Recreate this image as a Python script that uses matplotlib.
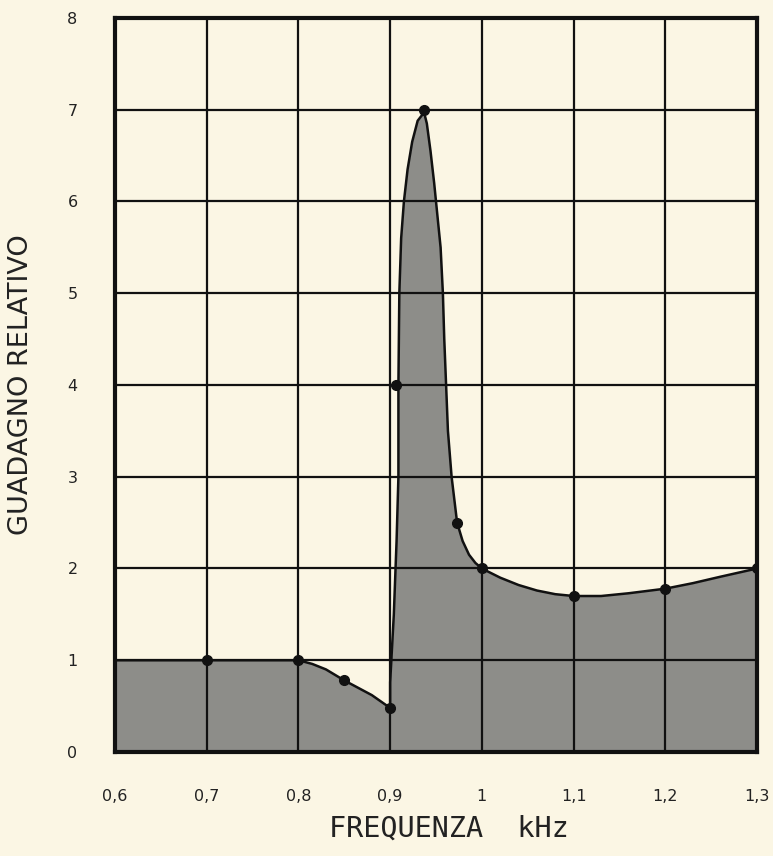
"""Relative gain vs frequency (0.6 - 1.3 kHz), hand-drawn style chart"""
import matplotlib
matplotlib.use("Agg")
import matplotlib.pyplot as plt
from matplotlib.ticker import FixedLocator, FixedFormatter

# traced outline of the gain curve
CURVE_X = [0.6, 0.7, 0.8, 0.815, 0.83, 0.85, 0.865, 0.88, 0.9,
           0.9, 0.904, 0.907, 0.909, 0.909, 0.91, 0.912, 0.915, 0.919,
           0.924, 0.93, 0.937,
           0.94, 0.944, 0.948, 0.952, 0.955, 0.9575, 0.959, 0.961, 0.963,
           0.967, 0.973, 0.979, 0.986, 0.993, 1.0,
           1.02, 1.04, 1.06, 1.08, 1.1, 1.13, 1.16, 1.2, 1.23, 1.26, 1.3]
CURVE_Y = [1.0, 1.0, 1.0, 0.96, 0.9, 0.78, 0.7, 0.62, 0.48,
           0.76, 1.5, 2.3, 3.0, 4.0, 5.0, 5.6, 6.0, 6.35,
           6.65, 6.88, 6.97,
           6.85, 6.55, 6.2, 5.8, 5.5, 5.0, 4.5, 4.0, 3.5,
           3.0, 2.5, 2.3, 2.15, 2.06, 2.0,
           1.9, 1.82, 1.76, 1.72, 1.70, 1.70, 1.73, 1.78, 1.84, 1.91, 2.0]

# measured points (dots)
POINT_X = [0.7, 0.8, 0.85, 0.9, 0.906, 0.937, 0.973, 1.0, 1.1, 1.2, 1.3]
POINT_Y = [1.0, 1.0, 0.78, 0.48, 4.0, 7.0, 2.5, 2.0, 1.7, 1.78, 2.0]

X_TICKS = [0.6, 0.7, 0.8, 0.9, 1.0, 1.1, 1.2, 1.3]
X_LABELS = ["0,6", "0,7", "0,8", "0,9", "1", "1,1", "1,2", "1,3"]
Y_TICKS = [0, 1, 2, 3, 4, 5, 6, 7, 8]

PAPER = "#fbf6e4"
GREY = "#8d8d89"

fig = plt.figure(figsize=(7.73, 8.56), dpi=100, facecolor=PAPER)
ax = fig.add_axes([0.1488, 0.1215, 0.8305, 0.8575])
ax.set_facecolor(PAPER)

ax.fill_between(CURVE_X, 0, CURVE_Y, color=GREY, zorder=1, linewidth=0)
ax.plot(CURVE_X, CURVE_Y, color="#111111", linewidth=1.8, zorder=3)
ax.plot(POINT_X, POINT_Y, "o", color="#111111", markersize=7, zorder=4)

ax.set_xlim(0.6, 1.3)
ax.set_ylim(0, 8)
ax.xaxis.set_major_locator(FixedLocator(X_TICKS))
ax.xaxis.set_major_formatter(FixedFormatter(X_LABELS))
ax.yaxis.set_major_locator(FixedLocator(Y_TICKS))
ax.grid(True, color="#111111", linewidth=1.6, zorder=2)
ax.set_axisbelow(False)
ax.tick_params(length=0, labelsize=11.5, colors="#222222")
ax.tick_params(axis="x", pad=27)
ax.tick_params(axis="y", pad=27)
for side in ax.spines.values():
    side.set_linewidth(3)
    side.set_color("#111111")
    side.set_zorder(5)

ax.set_xlabel("FREQUENZA  kHz", fontsize=20.5, color="#222222",
              family="DejaVu Sans Mono", labelpad=11)
ax.xaxis.set_label_coords(0.52, -0.085)
ax.set_ylabel("GUADAGNO RELATIVO", fontsize=19.5, color="#222222", labelpad=24)

fig.savefig("out.png", dpi=100, facecolor=PAPER)
